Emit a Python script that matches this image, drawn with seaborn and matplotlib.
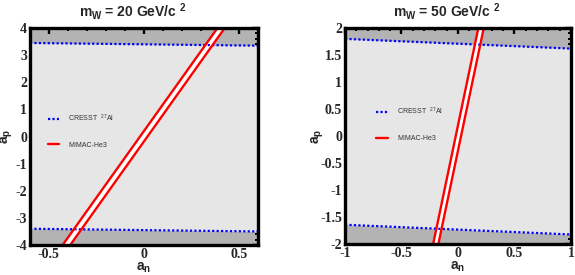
import numpy as np
import seaborn as sns
import pandas as pd
from matplotlib import pyplot as plt
from matplotlib.ticker import MultipleLocator

# panel settings
masses = [20, 50]
xlims = [(-0.6, 0.6), (-1, 1)]
ylims = [(-4, 4), (-2, 2)]

# CRESST 27Al limits (a_n at the edges, a_p upper / lower)
cresst_x = [[-0.6, 0.6], [-1, 1]]
cresst_up = [[3.45, 3.35], [1.80, 1.62]]
cresst_lo = [[-3.40, -3.50], [-1.64, -1.82]]

# MIMAC-He3 band: a_n of the two edges at a_p bottom / top
band_y = [[-4, 4], [-2, 2]]
band_left = [[-0.428, 0.386], [-0.220, 0.180]]
band_right = [[-0.388, 0.424], [-0.174, 0.228]]

sns.set_style("white")
plt.rcParams["mathtext.default"] = "regular"

fig = plt.figure(figsize=(5.75, 2.75), dpi=100)
axes = [fig.add_axes([0.052, 0.109, 0.397, 0.789]),
        fig.add_axes([0.600, 0.112, 0.393, 0.786])]
ylab_x = [-0.065, -0.085]

for i, ax in enumerate(axes):
    x0, x1 = xlims[i]
    y0, y1 = ylims[i]
    ax.set_facecolor("#b3b3b3")
    cx = np.array(cresst_x[i])
    ax.fill_between(cx, cresst_lo[i], cresst_up[i], color="#e6e6e6", lw=0, zorder=1)

    df = pd.DataFrame({"an": list(cx) * 2,
                       "ap": cresst_up[i] + cresst_lo[i],
                       "lim": ["up", "up", "lo", "lo"]})
    sns.lineplot(data=df, x="an", y="ap", units="lim", estimator=None,
                 color="blue", lw=1.6, ls=(0, (1, 1)), ax=ax, zorder=3,
                 label="CRESST  $^{27}$Al")

    by = np.array(band_y[i])
    ax.fill_betweenx(by, band_left[i], band_right[i], color="white", lw=0, zorder=2)
    bdf = pd.DataFrame({"an": band_left[i] + band_right[i],
                        "ap": list(by) * 2,
                        "edge": ["l", "l", "r", "r"]})
    sns.lineplot(data=bdf, x="an", y="ap", units="edge", estimator=None,
                 color="red", lw=1.7, ax=ax, zorder=4, label="MIMAC-He3")

    ax.set_xlim(x0, x1)
    ax.set_ylim(y0, y1)
    ax.set_title("m$_W$ = %d GeV/c $^2$" % masses[i], fontsize=10, x=0.45,
                 fontweight="bold", family="Liberation Sans", pad=8)
    ax.set_xlabel("a$_n$", fontsize=10, fontweight="bold", family="Liberation Sans")
    ax.set_ylabel("a$_p$", fontsize=10, fontweight="bold", family="Liberation Sans")
    ax.xaxis.set_label_coords(0.5, -0.07)
    ax.yaxis.set_label_coords(ylab_x[i], 0.5)

    ax.xaxis.set_major_locator(MultipleLocator(0.5))
    ax.xaxis.set_minor_locator(MultipleLocator(0.1))
    if i == 0:
        ax.yaxis.set_major_locator(MultipleLocator(1))
        ax.yaxis.set_minor_locator(MultipleLocator(0.2))
    else:
        ax.yaxis.set_major_locator(MultipleLocator(0.5))
        ax.yaxis.set_minor_locator(MultipleLocator(0.1))
    fmt = plt.FuncFormatter(lambda v, p: "%g" % v if abs(v) > 1e-9 else "0")
    ax.xaxis.set_major_formatter(fmt)
    ax.yaxis.set_major_formatter(fmt)
    ax.tick_params(which="both", direction="in", top=True, right=True, color="black")
    ax.tick_params(which="major", length=4, width=1.7, pad=2)
    ax.tick_params(which="minor", length=2.2, width=1.4)
    for lab in ax.get_xticklabels() + ax.get_yticklabels():
        lab.set_family("Liberation Serif")
        lab.set_fontweight("bold")
        lab.set_fontsize(10)
    for s in ax.spines.values():
        s.set_linewidth(2.4)
        s.set_color("black")
        s.set_zorder(6)

    handles, labels = ax.get_legend_handles_labels()
    leg = ax.legend(handles[:1] + handles[-1:], labels[:1] + labels[-1:],
                    loc="upper left",
                    bbox_to_anchor=(0.05, 0.64) if i == 0 else (0.11, 0.67),
                    frameon=False, handlelength=1.7,
                    labelspacing=2.6, handletextpad=1.3,
                    prop={"family": "Liberation Sans", "size": 5})
    for t in leg.get_texts():
        t.set_color("#333333")

fig.savefig("out.png", dpi=100)
